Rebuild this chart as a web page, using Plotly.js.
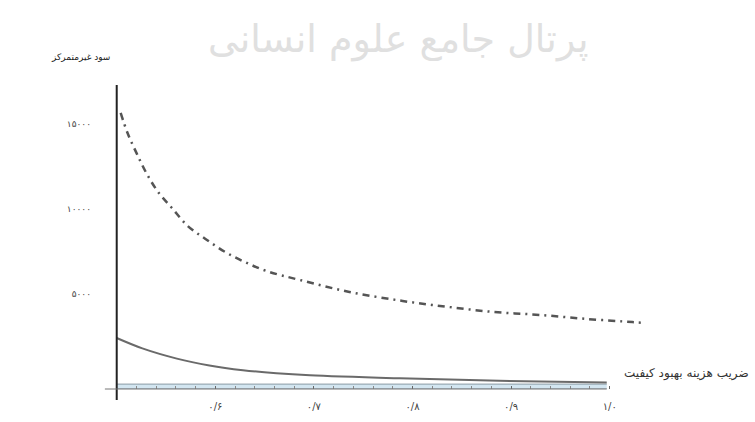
<!DOCTYPE html>
<html><head><meta charset="utf-8">
<script src="https://cdn.plot.ly/plotly-3.0.1.min.js"></script>
<style>html,body{margin:0;padding:0;background:#fff}#chart{width:755px;height:422px}</style>
</head><body><div id="chart"></div>
<script>
// Dash-dot curve
const decX = [0.504, 0.511, 0.520, 0.530, 0.542, 0.556, 0.572, 0.590, 0.610, 0.630, 0.652, 0.686, 0.736, 0.790, 0.836, 0.883, 0.929, 0.977, 1.023, 1.035];
const decY = [15650, 14470, 13300, 12120, 11000, 10060, 9000, 8240, 7470, 6880, 6350, 5820, 5120, 4590, 4240, 3940, 3770, 3530, 3350, 3300];
// Solid curve
const solidX = [0.500, 0.526, 0.561, 0.594, 0.628, 0.662, 0.696, 0.787, 0.888, 0.997];
const solidY = [2410, 1800, 1200, 800, 520, 340, 220, 40, -110, -200];
// Shaded band along the axis
const bandX = [0.5, 0.997];
const bandTop = [-300, -300];
const bandBottom = [-588, -588];
// Ticks
const xTickVals = [0.6, 0.7, 0.8, 0.9, 1.0];
const xTickText = ['۰/۶', '۰/۷', '۰/۸', '۰/۹', '۱/۰'];
const xMinorVals = [0.52, 0.54, 0.56, 0.58, 0.62, 0.64, 0.66, 0.68, 0.72, 0.74, 0.76, 0.78, 0.82, 0.84, 0.86, 0.88, 0.92, 0.94, 0.96, 0.98];
const yTickVals = [5000, 10000, 15000];
const yTickText = ['۵۰۰۰', '۱۰۰۰۰', '۱۵۰۰۰'];
const xTitle = 'ضریب هزینه بهبود کیفیت';
const yTitle = 'سود غیرمتمرکز';
const watermark = 'پرتال جامع علوم انسانی';

const F = 'DejaVu Sans, Noto Sans, sans-serif';

const traces = [
  {x: bandX, y: bandBottom, mode: 'lines', line: {color: '#8a9aa4', width: 1}, hoverinfo: 'skip', showlegend: false},
  {x: bandX, y: bandTop, mode: 'lines', fill: 'tonexty', fillcolor: '#d3e6f1', line: {color: '#8a9aa4', width: 1}, hoverinfo: 'skip', showlegend: false},
  {x: solidX, y: solidY, mode: 'lines', line: {color: '#6a6a6a', width: 2, shape: 'spline', smoothing: 1}, showlegend: false},
  {x: decX, y: decY, mode: 'lines', line: {color: '#555', width: 2.5, dash: '7px,5px,2px,5px', shape: 'spline'}, showlegend: false}
];

const layout = {
  width: 755, height: 422,
  margin: {l: 97, r: 96, t: 80, b: 33},
  paper_bgcolor: '#fff', plot_bgcolor: '#fff',
  showlegend: false,
  font: {family: F, color: '#333'},
  xaxis: {
    range: [0.48, 1.05], showgrid: false, zeroline: false, showline: false,
    tickmode: 'array', tickvals: xTickVals, ticktext: xTickText,
    ticks: 'inside', ticklen: 3, tickcolor: '#666', tickwidth: 1,
    minor: {tickmode: 'array', tickvals: xMinorVals, ticks: 'inside', ticklen: 3, tickcolor: '#888', tickwidth: 1},
    ticklabelstandoff: 10,
    tickfont: {family: F, size: 10, color: '#444'}
  },
  yaxis: {
    range: [-588, 17588], showgrid: false, zeroline: false, showline: false,
    tickmode: 'array', tickvals: yTickVals, ticktext: yTickText,
    ticks: '', ticklabelstandoff: 5,
    tickfont: {family: F, size: 9, color: '#444'}
  },
  shapes: [
    {type: 'line', xref: 'x', yref: 'paper', x0: 0.5, x1: 0.5, y0: -0.036, y1: 0.984, line: {color: '#222', width: 2}},
    {type: 'line', xref: 'x', yref: 'paper', x0: 0.488, x1: 0.997, y0: 0, y1: 0, line: {color: '#777', width: 1}}
  ],
  annotations: [
    {text: yTitle, xref: 'paper', yref: 'paper', x: (80 - 97) / 562, y: (389 - 57) / 309, xanchor: 'center', yanchor: 'middle', showarrow: false, font: {family: F, size: 9, color: '#222'}},
    {text: xTitle, xref: 'paper', yref: 'paper', x: (686 - 97) / 562, y: (389 - 373) / 309, xanchor: 'center', yanchor: 'middle', showarrow: false, font: {family: F, size: 12, color: '#333'}},
    {text: watermark, xref: 'paper', yref: 'paper', x: (398 - 97) / 562, y: (389 - 40) / 309, xanchor: 'center', yanchor: 'middle', showarrow: false, font: {family: F, size: 38, color: '#e0e0e0'}}
  ]
};

Plotly.newPlot('chart', traces, layout, {displayModeBar: false, staticPlot: true});
</script>
</body></html>
